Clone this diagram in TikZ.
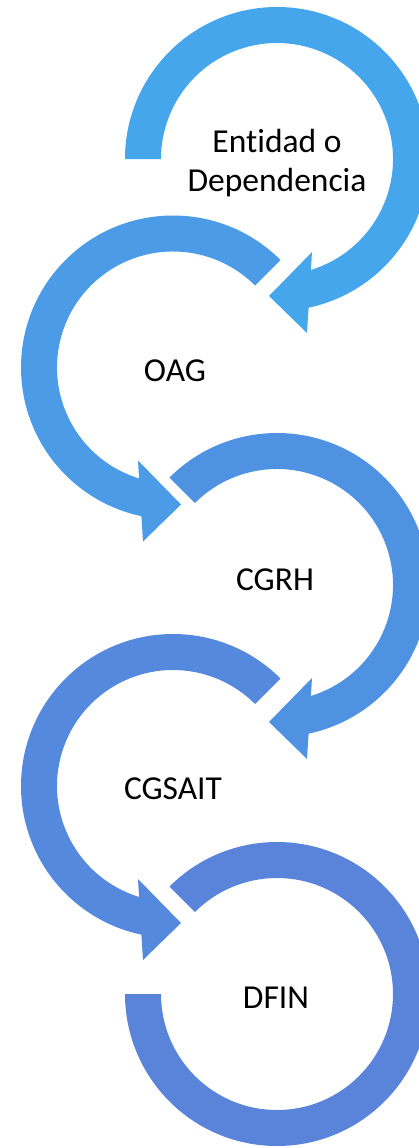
\documentclass[tikz,border=0pt]{standalone}
\usepackage{fontspec}
\setmainfont{Carlito}[Ligatures=NoCommon]
\definecolor{cA}{HTML}{46A6EC}
\definecolor{cB}{HTML}{4B9BE6}
\definecolor{cC}{HTML}{5092E2}
\definecolor{cD}{HTML}{5589DD}
\definecolor{cE}{HTML}{5A84D9}
\newcommand\myarrowpath[1]{(#1:152pt) arc[start angle=#1, end angle=-78, radius=152pt] -- (30pt,-174pt) -- (-8pt,-137pt) -- (35pt,-93pt) -- (-73:116pt) arc[start angle=-73, end angle=#1, radius=116pt] -- cycle}
\tikzset{
  steplabel/.style={font=\fontsize{33.5}{39}\selectfont, align=center, text=black, inner sep=0pt},
  band/.style={fill=#1, draw=none}
}
\begin{document}
\begin{tikzpicture}[x=1pt,y=1pt]
\useasboundingbox (0,0) rectangle (419,-1148);
\clip (0,0) rectangle (419,-1148);
% 1: Entidad o Dependencia
\begin{scope}[shift={(277,-159)}]
  \fill[band=cA] \myarrowpath{180};
\end{scope}
% 2: OAG (mirrored)
\begin{scope}[shift={(173,-367.5)}, xscale=-1]
  \fill[band=cB] \myarrowpath{135};
\end{scope}
% 3: CGRH
\begin{scope}[shift={(277,-585)}]
  \fill[band=cC] \myarrowpath{135};
\end{scope}
% 4: CGSAIT (mirrored)
\begin{scope}[shift={(173,-786)}, xscale=-1]
  \fill[band=cD] \myarrowpath{135};
\end{scope}
% 5: DFIN
\begin{scope}[shift={(277,-994)}]
  \fill[band=cE] (135:152pt) arc[start angle=135, end angle=-180, radius=152pt] -- (180:116pt) arc[start angle=180, end angle=495, radius=116pt] -- cycle;
\end{scope}
\node[steplabel] (n1) at (277,-163) {Entidad o\\Dependencia};
\node[steplabel] (n2) at (175,-371) {OAG};
\node[steplabel] (n3) at (275,-580) {CGRH};
\node[steplabel] (n4) at (173,-789) {CGSAIT};
\node[steplabel] (n5) at (276,-997.5) {DFIN};
\end{tikzpicture}
\end{document}
